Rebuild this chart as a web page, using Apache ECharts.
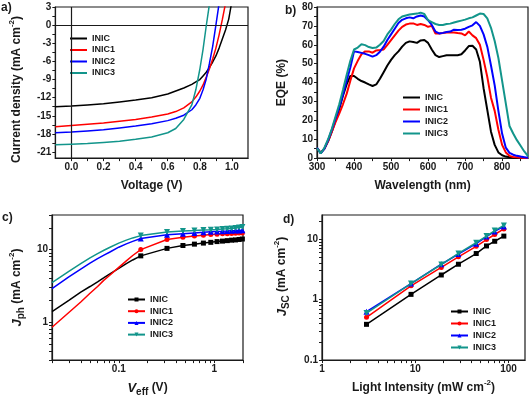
<!DOCTYPE html>
<html>
<head>
<meta charset="utf-8">
<title>INIC devices</title>
<script src="https://cdn.jsdelivr.net/npm/echarts@6/dist/echarts.min.js"></script>
<style>
html, body { margin: 0; padding: 0; background: #fff; }
#wrap { position: relative; width: 531px; height: 402px; }
.panel { position: absolute; }
#chartA { left: 0; top: 0; width: 265px; height: 200px; }
#chartB { left: 265px; top: 0; width: 266px; height: 200px; }
#chartC { left: 0; top: 200px; width: 265px; height: 202px; }
#chartD { left: 265px; top: 200px; width: 266px; height: 202px; }
</style>
</head>
<body>
<div id="wrap">
  <div class="panel" id="chartA"></div>
  <div class="panel" id="chartB"></div>
  <div class="panel" id="chartC"></div>
  <div class="panel" id="chartD"></div>
</div>
<script>
const NAMES = ['INIC', 'INIC1', 'INIC2', 'INIC3'];

// a) J-V curves
const jvVoltage = [-0.1, 0, 0.1, 0.2, 0.3, 0.4, 0.5, 0.6, 0.65, 0.7, 0.75, 0.775, 0.8, 0.82, 0.84, 0.86, 0.88, 0.9, 0.92, 0.94, 0.96, 0.98, 1.0];
const jvINIC  = [-13.5, -13.4, -13.2, -13.0, -12.7, -12.4, -12.0, -11.4, -10.9, -10.4, -9.8, -9.4, -9.0, -8.4, -7.8, -7.0, -6.1, -5.1, -3.8, -2.3, -0.8, 1.0, 4.0];
const jvINIC1 = [-16.8, -16.6, -16.4, -16.2, -15.9, -15.6, -15.2, -14.7, -14.3, -13.7, -12.7, -11.9, -10.9, -9.9, -8.6, -7.2, -5.6, -3.8, -1.6, 0.9, 3.6, 6.5];
const jvINIC2 = [-17.8, -17.7, -17.5, -17.3, -17.0, -16.7, -16.3, -15.8, -15.4, -14.9, -14.0, -13.2, -12.1, -10.7, -8.9, -6.3, -3.5, 0.0, 3.6, 7.0];
const jvINIC3 = [-19.8, -19.7, -19.6, -19.4, -19.2, -18.9, -18.5, -17.8, -17.1, -15.6, -13.2, -10.7, -7.3, -4.0, -0.1, 3.5, 7.0];
const jvLabelsX = [0, 0.2, 0.4, 0.6, 0.8, 1.0];
const jvTicksX = [0, 0.1, 0.2, 0.3, 0.4, 0.5, 0.6, 0.7, 0.8, 0.9, 1.0];
const jvLabelsY = [-21, -18, -15, -12, -9, -6, -3, 0, 3];
const jvTicksY = [-21, -19.5, -18, -16.5, -15, -13.5, -12, -10.5, -9, -7.5, -6, -4.5, -3, -1.5, 0, 1.5, 3];

// b) EQE spectra
const eqeWavelength = [300, 310, 320, 330, 340, 350, 360, 370, 380, 390, 400, 410, 420, 430, 440, 450, 460, 470, 480, 490, 500, 510, 520, 530, 540, 550, 560, 570, 580, 590, 600, 610, 620, 630, 640, 650, 660, 670, 680, 690, 700, 710, 720, 730, 740, 750, 760, 770, 780, 790, 800, 810, 820, 830, 840, 850, 860, 870];
const eqeINIC  = [5.3, 2.8, 5, 9, 14, 20, 26, 33, 39, 43.5, 43.5, 42, 40.8, 40, 39, 38.2, 39, 42, 45.5, 49, 52, 54.5, 56.5, 59, 61, 61.8, 61.5, 61, 62.3, 62.5, 61, 57.5, 54.5, 53.5, 54, 54.5, 54.5, 54.5, 54.5, 55, 57, 59.3, 59.5, 57.5, 51, 37, 25.5, 14, 7, 3, 1.5, 0.8, 0.4, 0.2, 0.1, 0, 0, 0];
const eqeINIC1 = [5.3, 2.8, 5, 9, 14, 19, 23.5, 28.5, 34, 41, 47.5, 51.5, 55, 56.5, 56.5, 55.8, 57, 57.2, 57.5, 60, 62.5, 65, 67.5, 69.5, 70.7, 71.2, 71.3, 70.5, 71, 70.5, 69.5, 70, 66, 66, 66.2, 66.5, 66.5, 66.5, 66.2, 66, 65, 67, 65, 63.5, 60, 52, 43, 32, 25, 15, 7, 3, 1.2, 0.6, 0.4, 0.2, 0.1, 0];
const eqeINIC2 = [5.5, 2.5, 5, 9.5, 15, 21, 27, 33.5, 41, 48, 56.5, 56.2, 55.7, 55.2, 54.5, 53.7, 54.5, 56.3, 59, 62.5, 65.5, 68.5, 71.5, 73.2, 74, 74.5, 74, 75, 75.5, 75, 73, 70.5, 67, 66, 66.3, 66.8, 67, 68, 67.8, 68, 68.5, 69.5, 70.3, 72, 70, 65.5, 59, 49, 38.5, 25, 13, 5.5, 2.8, 1.8, 1.2, 0.8, 0.5, 0.2];
const eqeINIC3 = [5.3, 2.5, 5.5, 10, 15.5, 22, 28.5, 36, 44, 51.5, 57.5, 58.5, 60.3, 59.8, 58.8, 58.3, 58.5, 60, 62, 65.5, 68, 71, 73.5, 75, 75.5, 76, 76.3, 76.5, 77, 76.3, 73, 72, 71, 70.5, 70.5, 71, 71.2, 71.8, 72.3, 72.8, 73.3, 74, 74.5, 75.5, 76.5, 76.3, 74, 69, 62, 53, 41, 29, 17, 13, 9.5, 6.5, 3.5, 1];
const eqeLabelsX = [300, 400, 500, 600, 700, 800];
const eqeTicksX = [300, 350, 400, 450, 500, 550, 600, 650, 700, 750, 800, 850];
const eqeLabelsY = [0, 10, 20, 30, 40, 50, 60, 70, 80];
const eqeTicksY = [0, 5, 10, 15, 20, 25, 30, 35, 40, 45, 50, 55, 60, 65, 70, 75, 80];

// c) photocurrent vs effective voltage (markers from 0.17 V on)
const phVeff = [0.02, 0.03, 0.04, 0.05, 0.06, 0.07, 0.08, 0.1, 0.12, 0.14, 0.17, 0.32, 0.47, 0.62, 0.77, 0.92, 1.07, 1.22, 1.37, 1.52, 1.67, 1.82, 1.97];
const phINIC  = [1.4, 2.0, 2.6, 3.1, 3.6, 4.1, 4.6, 5.5, 6.4, 7.2, 8.2, 10.4, 11.4, 11.9, 12.3, 12.6, 12.9, 13.1, 13.3, 13.5, 13.6, 13.8, 14.0];
const phINIC1 = [0.85, 1.36, 1.9, 2.5, 3.1, 3.8, 4.4, 5.7, 7.0, 8.3, 10, 13.8, 14.8, 15.4, 15.8, 16.1, 16.3, 16.5, 16.6, 16.7, 16.8, 16.9, 17.0];
const phINIC2 = [2.9, 4.2, 5.4, 6.5, 7.5, 8.4, 9.2, 10.8, 12.0, 13.0, 14.2, 16.0, 16.6, 17.0, 17.3, 17.6, 17.8, 17.9, 18.0, 18.2, 18.3, 18.4, 18.5];
const phINIC3 = [3.5, 5.0, 6.4, 7.7, 8.8, 9.8, 10.7, 12.3, 13.5, 14.5, 15.6, 17.5, 18.0, 18.3, 18.6, 18.8, 19.0, 19.2, 19.4, 19.6, 19.9, 20.2, 20.5];
const phMarkerFrom = 0.15;
const phLabelsX = [0.1, 1];
const phTicksX = [0.02, 0.03, 0.04, 0.05, 0.06, 0.07, 0.08, 0.09, 0.1, 0.2, 0.3, 0.4, 0.5, 0.6, 0.7, 0.8, 0.9, 1, 2];
const phLabelsY = [1, 10];
const phTicksY = [0.3, 0.4, 0.5, 0.6, 0.7, 0.8, 0.9, 1, 2, 3, 4, 5, 6, 7, 8, 9, 10, 20, 30];

// d) Jsc vs light intensity
const liIntensity = [3, 9, 19, 29, 45, 58, 71, 89];
const liINIC  = [0.39, 1.22, 2.55, 3.84, 5.77, 7.7, 9.2, 11.2];
const liINIC1 = [0.51, 1.69, 3.4, 5.1, 7.6, 9.8, 11.9, 14.7];
const liINIC2 = [0.63, 1.84, 3.84, 5.65, 8.4, 11, 13.4, 16.2];
const liINIC3 = [0.6, 1.84, 3.8, 5.8, 8.7, 11.2, 13.8, 16.8];
const liLabelsX = [1, 10, 100];
const liTicksX = [1, 2, 3, 4, 5, 6, 7, 8, 9, 10, 20, 30, 40, 50, 60, 70, 80, 90, 100];
const liLabelsY = [0.1, 1, 10];
const liTicksY = [0.1, 0.2, 0.3, 0.4, 0.5, 0.6, 0.7, 0.8, 0.9, 1, 2, 3, 4, 5, 6, 7, 8, 9, 10, 20];

const FONT = 'Arial, "Liberation Sans", sans-serif';
const INK = '#1a1a1a';
const COLORS = ['#000000', '#ff0000', '#0000ff', '#12958b'];
const SYMBOLS = ['rect', 'circle', 'triangle', 'triangle'];
const RICH = {
  sup: { fontFamily: FONT, fontWeight: 'bold', fontSize: 8, lineHeight: 8, verticalAlign: 'top', color: INK },
  sub: { fontFamily: FONT, fontWeight: 'bold', fontSize: 10, lineHeight: 10, verticalAlign: 'bottom', color: INK },
  i: { fontFamily: FONT, fontWeight: 'bold', fontStyle: 'italic', fontSize: 13, lineHeight: 18, color: INK }
};

function axis(o) {
  return {
    type: o.type || 'value',
    min: o.min,
    max: o.max,
    name: o.name,
    nameLocation: 'middle',
    nameGap: o.nameGap,
    nameTextStyle: Object.assign({ fontFamily: FONT, fontWeight: 'bold', fontSize: 12, color: INK, lineHeight: 18, rich: RICH }, o.nameStyle || {}),
    axisLine: { show: true, onZero: false, lineStyle: { color: INK, width: 1.2 } },
    axisTick: { show: true, length: 3, customValues: o.ticks, lineStyle: { color: INK, width: 1 } },
    axisLabel: { customValues: o.labels, formatter: o.fmt, margin: 4, fontFamily: FONT, fontWeight: 'bold', fontSize: 10, color: INK },
    splitLine: { show: false }
  };
}

function grid(left, top, width, height) {
  return { left: left, top: top, width: width, height: height, show: true, borderColor: INK, borderWidth: 1.2 };
}

// plain: legend keys drawn as a bare line (panels a, b)
function legend(left, top, gap, plain) {
  const lg = {
    orient: 'vertical', left: left, top: top, padding: 0, itemGap: gap,
    itemWidth: 17, itemHeight: plain ? 2 : 5, selectedMode: false,
    textStyle: { fontFamily: FONT, fontWeight: 'bold', fontSize: 9, color: INK, lineHeight: 11 },
    data: NAMES
  };
  if (plain) lg.icon = 'rect';
  return lg;
}

function letter(text, left, top) {
  return [{ type: 'text', left: left, top: top, style: { text: text, font: 'bold 12px ' + FONT, fill: INK } }];
}

function pairs(xs, ys) {
  return ys.map(function (y, k) { return [xs[k], y]; });
}

function plainLine(i, xs, ys, width) {
  return {
    name: NAMES[i], type: 'line', data: pairs(xs, ys), symbol: 'none',
    lineStyle: { color: COLORS[i], width: width }, itemStyle: { color: COLORS[i] },
    silent: true, z: 2 + i
  };
}

function markedLine(i, data) {
  return {
    name: NAMES[i], type: 'line', data: data,
    symbol: SYMBOLS[i], symbolSize: i >= 2 ? 6 : 5, symbolRotate: i === 3 ? 180 : 0,
    showAllSymbol: true,
    lineStyle: { color: COLORS[i], width: 1.5 }, itemStyle: { color: COLORS[i] },
    silent: true, z: 2 + i
  };
}

function makeChart(id, option) {
  const chart = echarts.init(document.getElementById(id));
  chart.setOption(Object.assign({ animation: false, backgroundColor: '#fff' }, option));
}

// panel a
const jvSeries = [jvINIC, jvINIC1, jvINIC2, jvINIC3].map(function (ys, i) { return plainLine(i, jvVoltage, ys, 1.5); });
jvSeries[0].markLine = {
  silent: true, symbol: 'none', label: { show: false },
  lineStyle: { color: INK, width: 1.2, type: 'solid' },
  data: [{ yAxis: 0 }, { xAxis: 0 }]
};
makeChart('chartA', {
  graphic: letter('a)', 1, 2),
  grid: grid(39, 7, 209, 159),
  legend: legend(70, 33, 0.5, true),
  xAxis: axis({ min: -0.1, max: 1.1, labels: jvLabelsX, ticks: jvTicksX, fmt: function (v) { return v.toFixed(1); }, name: 'Voltage (V)', nameGap: 15 }),
  yAxis: axis({ min: -22, max: 3, labels: jvLabelsY, ticks: jvTicksY, fmt: function (v) { return String(v); }, name: 'Current density (mA cm{sup|-2})', nameGap: 25, nameStyle: { padding: [0, 14, 0, 0] } }),
  series: jvSeries
});

// panel b
makeChart('chartB', {
  graphic: letter('b)', 20, 5),
  grid: grid(52, 7, 211, 157),
  legend: legend(138, 92, 1, true),
  xAxis: axis({ min: 300, max: 870, labels: eqeLabelsX, ticks: eqeTicksX, fmt: function (v) { return String(v); }, name: 'Wavelength (nm)', nameGap: 17 }),
  yAxis: axis({ min: 0, max: 80, labels: eqeLabelsY, ticks: eqeTicksY, fmt: function (v) { return String(v); }, name: 'EQE (%)', nameGap: 19 }),
  series: [eqeINIC, eqeINIC1, eqeINIC2, eqeINIC3].map(function (ys, i) { return plainLine(i, eqeWavelength, ys, 2); })
});

// panel c
makeChart('chartC', {
  graphic: letter('c)', 2, 12),
  grid: grid(33, 15, 210, 158),
  legend: legend(127, 94, 0.7, false),
  xAxis: axis({ type: 'log', min: 0.02, max: 2, labels: phLabelsX, ticks: phTicksX, fmt: function (v) { return String(v); }, name: '{i|V}{sub|eff} (V)', nameGap: 10 }),
  yAxis: axis({ type: 'log', min: 0.3, max: 30, labels: phLabelsY, ticks: phTicksY, fmt: function (v) { return String(v); }, name: '{i|J}{sub|ph} (mA cm{sup|-2})', nameGap: 15 }),
  series: [phINIC, phINIC1, phINIC2, phINIC3].map(function (ys, i) {
    return markedLine(i, ys.map(function (y, k) {
      const x = phVeff[k];
      return x >= phMarkerFrom ? [x, y] : { value: [x, y], symbol: 'none' };
    }));
  })
});

// panel d
makeChart('chartD', {
  graphic: letter('d)', 18, 14),
  grid: grid(49, 15, 211, 158),
  legend: legend(185, 106, 1, false),
  xAxis: axis({ type: 'log', min: 1, max: 150, labels: liLabelsX, ticks: liTicksX, fmt: function (v) { return String(v); }, name: 'Light Intensity (mW cm{sup|-2})', nameGap: 12 }),
  yAxis: axis({ type: 'log', min: 0.1, max: 25, labels: liLabelsY, ticks: liTicksY, fmt: function (v) { return String(v); }, name: '{i|J}{sub|SC} (mA cm{sup|-2})', nameGap: 31, nameStyle: { padding: [0, 0, 0, 22] } }),
  series: [liINIC, liINIC1, liINIC2, liINIC3].map(function (ys, i) { return markedLine(i, pairs(liIntensity, ys)); })
});
</script>
</body>
</html>
